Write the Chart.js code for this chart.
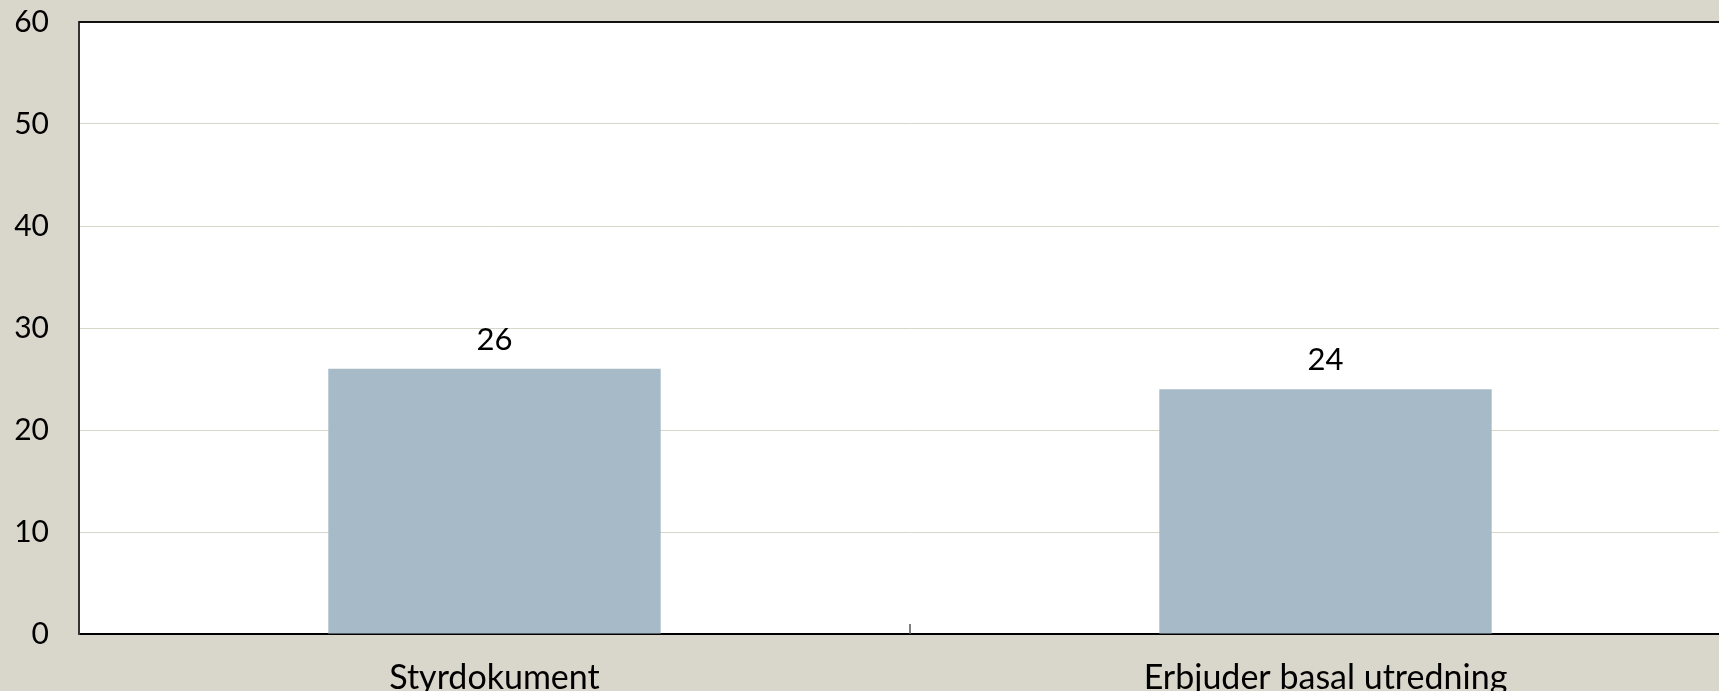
<!DOCTYPE html>
<html>
<head>
<meta charset="utf-8">
<script src="https://cdn.jsdelivr.net/npm/chart.js@4.4.0/dist/chart.umd.min.js"></script>
<style>
  html, body { margin: 0; padding: 0; background: #d9d7cb; }
  #wrap { width: 1719px; height: 691px; overflow: hidden; position: relative; background: #d9d7cb; }
  canvas { display: block; position: absolute; left: 0; top: -26px; }
</style>
</head>
<body>
<div id="wrap"><canvas id="c" width="1741" height="717"></canvas></div>
<script>
const categories = ["Styrdokument", "Erbjuder basal utredning"];
const values = [26, 24];
const yTicks = [0, 10, 20, 30, 40, 50, 60];

const FONT = "Lato, 'Open Sans', sans-serif";

const extras = {
  id: 'extras',
  afterDatasetsDraw(chart) {
    const ctx = chart.ctx;
    const area = chart.chartArea;
    const meta = chart.getDatasetMeta(0);
    ctx.save();
    ctx.fillStyle = '#000';
    ctx.font = '31px ' + FONT;
    ctx.textAlign = 'center';
    ctx.textBaseline = 'middle';
    meta.data.forEach((bar, i) => {
      ctx.fillText(String(values[i]), bar.x, bar.y - 29);
    });
    const xs = chart.scales.x;
    ctx.strokeStyle = '#555';
    ctx.lineWidth = 1.5;
    for (let i = 1; i < categories.length; i++) {
      const px = (xs.getPixelForValue(i - 1) + xs.getPixelForValue(i)) / 2;
      ctx.beginPath();
      ctx.moveTo(px, area.bottom);
      ctx.lineTo(px, area.bottom - 10);
      ctx.stroke();
    }
    ctx.strokeStyle = '#111';
    ctx.lineWidth = 2;
    ctx.beginPath();
    ctx.moveTo(area.left, area.top);
    ctx.lineTo(area.right, area.top);
    ctx.stroke();
    ctx.restore();
  }
};

const bgPlugin = {
  id: 'bg',
  beforeDraw(chart) {
    const ctx = chart.ctx;
    const a = chart.chartArea;
    ctx.save();
    ctx.fillStyle = '#d9d7cb';
    ctx.fillRect(0, 0, chart.width, chart.height);
    ctx.fillStyle = '#ffffff';
    ctx.fillRect(a.left, a.top, a.right - a.left, a.bottom - a.top);
    ctx.restore();
  }
};

new Chart(document.getElementById('c'), {
  type: 'bar',
  data: {
    labels: categories,
    datasets: [{
      data: values,
      backgroundColor: '#a6bbc7',
      borderWidth: 0,
      barPercentage: 0.8,
      categoryPercentage: 0.5
    }]
  },
  options: {
    responsive: false,
    animation: false,
    devicePixelRatio: 1,
    layout: { padding: { top: 22, right: 0, left: 0, bottom: 0 } },
    plugins: { legend: { display: false }, tooltip: { enabled: false } },
    scales: {
      x: {
        grid: { display: false, drawTicks: false },
        border: { display: true, color: '#000', width: 2 },
        ticks: { color: '#000', font: { family: FONT, size: 34 }, padding: 24, maxRotation: 0 },
        afterFit(s) { s.height = 57; }
      },
      y: {
        min: 0, max: 60,
        afterBuildTicks(s) { s.ticks = yTicks.map(v => ({ value: v })); },
        grid: { color: '#d8d6c8', lineWidth: 1, drawTicks: false },
        border: { display: true, color: '#333', width: 2 },
        ticks: { color: '#000', font: { family: FONT, size: 30 }, padding: 30, stepSize: 10 },
        afterFit(s) { s.width = 79; }
      }
    }
  },
  plugins: [bgPlugin, extras]
});
</script>
</body>
</html>
